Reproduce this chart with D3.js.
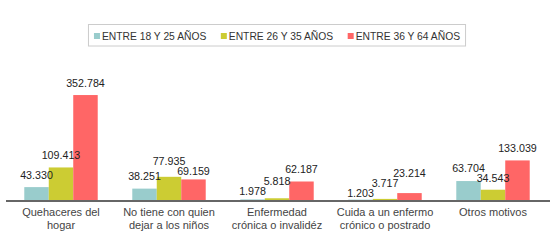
<!DOCTYPE html>
<html>
<head>
<meta charset="utf-8">
<script src="https://cdn.jsdelivr.net/npm/d3@7"></script>
<style>
  body { margin: 0; background: #fff; }
  svg { display: block; font-family: "Liberation Sans", Arial, sans-serif; }
</style>
</head>
<body>
<svg id="chart" width="550" height="244"></svg>
<script>
// chart data
var categories = [
    ["Quehaceres del", "hogar"],
    ["No tiene con quien", "dejar a los niños"],
    ["Enfermedad", "crónica o invalidéz"],
    ["Cuida a un enfermo", "crónico o postrado"],
    ["Otros motivos"]
];
var seriesNames = ["ENTRE 18 Y 25 AÑOS", "ENTRE 26 Y 35 AÑOS", "ENTRE 36 Y 64 AÑOS"];
var age18to25 = [43330, 38251, 1978, 1203, 63704];
var age26to35 = [109413, 77935, 5818, 3717, 34543];
var age36to64 = [352784, 69159, 62187, 23214, 133039];
var colors = ["#99cccc", "#cccc33", "#ff6666"];

var allSeries = [age18to25, age26to35, age36to64];

var svg = d3.select("#chart"),
    baseY = 200;

// spanish style numbers: 352.784
var fmt = d3.formatLocale({decimal: ",", thousands: ".", grouping: [3], currency: ["", ""]}).format(",d");

var x0 = d3.scaleBand()
    .domain(d3.range(categories.length))
    .range([7, 547])
    .paddingInner(0.32)
    .paddingOuter(0.16);

var x1 = d3.scaleBand()
    .domain(d3.range(seriesNames.length))
    .range([0, x0.bandwidth()]);

var yScale = d3.scaleLinear()
    .domain([0, 400000])
    .range([baseY, 81]);

// one record per bar
var bars = [];
categories.forEach(function (c, i) {
    allSeries.forEach(function (s, j) {
        bars.push({cat: i, ser: j, value: s[i]});
    });
});

svg.append("g").selectAll("rect")
    .data(bars)
    .enter().append("rect")
    .attr("x", function (d) { return x0(d.cat) + x1(d.ser); })
    .attr("width", x1.bandwidth())
    .attr("y", function (d) { return yScale(d.value); })
    .attr("height", function (d) { return baseY - yScale(d.value); })
    .attr("fill", function (d) { return colors[d.ser]; });

// axis line
svg.append("line")
    .attr("x1", 6).attr("x2", 550)
    .attr("y1", baseY + 1).attr("y2", baseY + 1)
    .attr("stroke", "#666").attr("stroke-width", 2);

// category labels (two lines each)
var catG = svg.append("g")
    .attr("font-size", "11px")
    .attr("fill", "#444")
    .attr("text-anchor", "middle");
categories.forEach(function (lines, i) {
    var cx = x0(i) + x0.bandwidth() / 2;
    var t = catG.append("text").attr("y", 216);
    lines.forEach(function (ln, k) {
        t.append("tspan")
            .attr("x", cx)
            .attr("dy", k === 0 ? 0 : 13)
            .text(ln);
    });
});

// value labels
var labelG = svg.append("g")
    .attr("font-size", "10.7px")
    .attr("fill", "#222")
    .attr("text-anchor", "middle");
var labels = labelG.selectAll("text")
    .data(bars)
    .enter().append("text")
    .attr("x", function (d) { return x0(d.cat) + x1(d.ser) + x1.bandwidth() / 2; })
    .text(function (d) { return fmt(d.value); });

labels.each(function (d) {
    d.lx = x0(d.cat) + x1(d.ser) + x1.bandwidth() / 2;
    d.w = this.getComputedTextLength();
    d.ly = yScale(d.value) - 8.5;
});

// push apart labels that overlap inside the same group
var need = 10;
for (var it = 0; it < 40; it++) {
    for (var a = 0; a < bars.length; a++) {
        for (var b = a + 1; b < bars.length; b++) {
            var p = bars[a], q = bars[b];
            if (p.cat !== q.cat) continue;
            if (Math.abs(p.lx - q.lx) >= (p.w + q.w) / 2) continue;
            var dist = Math.abs(p.ly - q.ly);
            if (dist >= need) continue;
            var push = (need - dist) / 2;
            if (p.ly <= q.ly) { p.ly -= push; q.ly += push; }
            else { q.ly -= push; p.ly += push; }
        }
    }
    bars.forEach(function (d) { d.ly = Math.min(d.ly, baseY - 3.5); });
}
labels.attr("y", function (d) { return d.ly; });

// legend
var legend = svg.append("g").attr("font-size", "10.3px").attr("fill", "#333");
var box = legend.append("rect")
    .attr("fill", "none").attr("stroke", "#ccc").attr("stroke-width", 1);
var items = legend.selectAll("g.item")
    .data(seriesNames)
    .enter().append("g").attr("class", "item");
items.append("rect")
    .attr("width", 6).attr("height", 6)
    .attr("y", 33)
    .attr("fill", function (d, i) { return colors[i]; });
items.append("text")
    .attr("x", 8).attr("y", 39.5)
    .text(function (d) { return d; });

var pos = 0, offsets = [];
items.each(function () {
    offsets.push(pos);
    pos += 8 + d3.select(this).select("text").node().getComputedTextLength() + 14.5;
});
var totalW = pos - 14.5,
    startX = 277 - totalW / 2;
items.attr("transform", function (d, i) { return "translate(" + (startX + offsets[i]) + ",0)"; });
box.attr("x", startX - 5.5).attr("y", 24.5)
    .attr("width", totalW + 11).attr("height", 21.5);
</script>
</body>
</html>
